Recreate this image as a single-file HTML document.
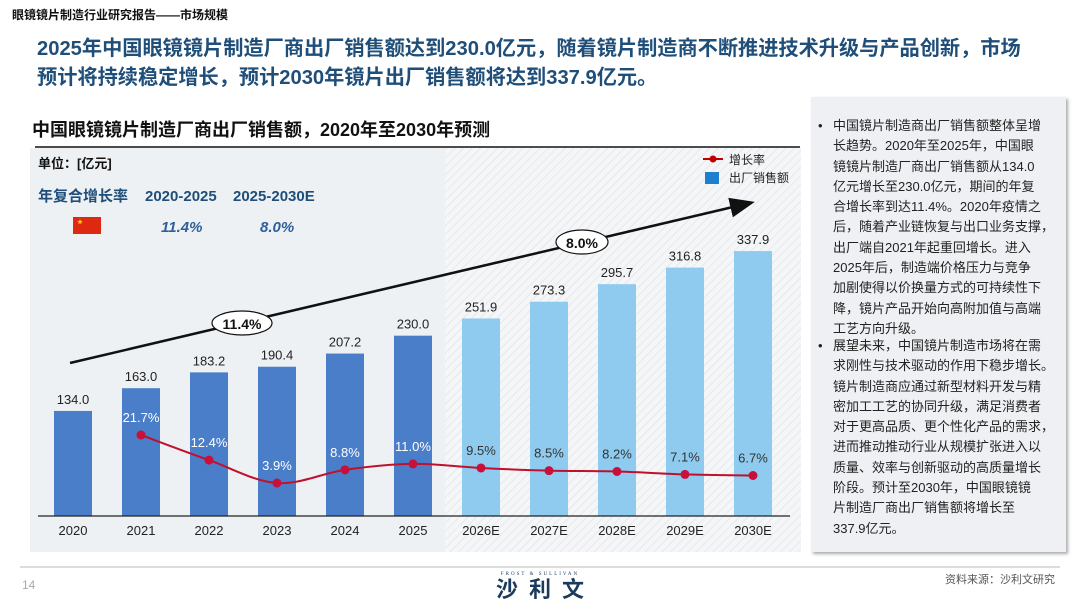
<!DOCTYPE html>
<html><head><meta charset="utf-8">
<style>
body{margin:0;width:1080px;height:608px;overflow:hidden;background:#fff;font-family:"Liberation Sans","Noto Sans CJK SC",sans-serif;position:relative}
.abs{position:absolute}
#panel{left:811px;top:97px;width:255px;height:455px;background:#eef0f3;box-shadow:2px 2px 3px #aaa}
#panel p{margin:0;position:absolute;left:22px;font-size:13px;line-height:20.3px;color:#222;width:240px;white-space:nowrap}
#panel p::before{content:"•";position:absolute;left:-15px}
</style></head><body>
<div class="abs" style="left:12px;top:6px;font-size:12px;font-weight:bold;color:#111">眼镜镜片制造行业研究报告——市场规模</div>
<div class="abs" style="left:37px;top:35px;font-size:20.2px;font-weight:bold;color:#1f4e79;line-height:29px;white-space:nowrap">2025年中国眼镜镜片制造厂商出厂销售额达到230.0亿元，随着镜片制造商不断推进技术升级与产品创新，市场<br>预计将持续稳定增长，预计2030年镜片出厂销售额将达到337.9亿元。</div>
<div class="abs" style="left:32px;top:116px;font-size:18px;font-weight:bold;color:#111">中国眼镜镜片制造厂商出厂销售额，2020年至2030年预测</div>

<svg class="abs" style="left:0;top:0" width="1080" height="608">
<defs><pattern id="hatch" width="6" height="6" patternUnits="userSpaceOnUse" patternTransform="rotate(45)"><rect width="6" height="6" fill="#f5f6f8"/><line x1="0" y1="0" x2="0" y2="6" stroke="#e6e8ec" stroke-width="2"/></pattern>
<marker id="ah" markerWidth="10" markerHeight="8" refX="8" refY="4" orient="auto"><path d="M0,0 L10,4 L0,8 z" fill="#111"/></marker></defs>
<rect x="30" y="148" width="415" height="404" fill="#eef1f4"/>
<rect x="445" y="148" width="356" height="404" fill="url(#hatch)"/>
<line x1="35" y1="147" x2="800" y2="147" stroke="#111" stroke-width="1.5"/>
<text x="38" y="168" font-size="13" font-weight="bold" fill="#111">单位：[亿元]</text>
<text x="38" y="201" font-size="15" font-weight="bold" fill="#1f4e79">年复合增长率</text>
<text x="145" y="201" font-size="15" font-weight="bold" fill="#1f4e79">2020-2025</text>
<text x="233" y="201" font-size="15" font-weight="bold" fill="#1f4e79">2025-2030E</text>
<rect x="73" y="217" width="28" height="17" fill="#de2910"/>
<text x="77" y="224" font-size="6" fill="#ffde00">★</text>
<text x="161" y="232" font-size="15" font-style="italic" font-weight="bold" fill="#2e5f99">11.4%</text>
<text x="260" y="232" font-size="15" font-style="italic" font-weight="bold" fill="#2e5f99">8.0%</text>
<g>
<line x1="703" y1="159" x2="723" y2="159" stroke="#c00000" stroke-width="2"/><circle cx="713" cy="159" r="3.5" fill="#c00000"/>
<text x="729" y="164" font-size="12" fill="#222">增长率</text>
<rect x="705" y="172" width="14" height="12" fill="#1f7fcf"/>
<text x="729" y="182" font-size="12" fill="#222">出厂销售额</text>
</g>
<g id="bars"></g>
<line x1="38" y1="516" x2="790" y2="516" stroke="#222" stroke-width="1.2"/>
<g id="line"></g>
<line x1="70" y1="363" x2="750" y2="203" stroke="#111" stroke-width="2.5" marker-end="url(#ah)"/>
<ellipse cx="242" cy="323" rx="30" ry="12" fill="#fff" stroke="#111" stroke-width="1.2"/>
<text x="242" y="329" font-size="14" font-weight="bold" text-anchor="middle" fill="#111">11.4%</text>
<ellipse cx="582" cy="242" rx="26" ry="12" fill="#fff" stroke="#111" stroke-width="1.2"/>
<text x="582" y="248" font-size="14" font-weight="bold" text-anchor="middle" fill="#111">8.0%</text>
<line x1="20" y1="567" x2="1060" y2="567" stroke="#bbb" stroke-width="1"/>
</svg>

<div id="panel" class="abs">
<p style="top:19px">中国镜片制造商出厂销售额整体呈增<br>长趋势。2020年至2025年，中国眼<br>镜镜片制造厂商出厂销售额从134.0<br>亿元增长至230.0亿元，期间的年复<br>合增长率到达11.4%。2020年疫情之<br>后，随着产业链恢复与出口业务支撑，<br>出厂端自2021年起重回增长。进入<br>2025年后，制造端价格压力与竞争<br>加剧使得以价换量方式的可持续性下<br>降，镜片产品开始向高附加值与高端<br>工艺方向升级。</p>
<p style="top:239px">展望未来，中国镜片制造市场将在需<br>求刚性与技术驱动的作用下稳步增长。<br>镜片制造商应通过新型材料开发与精<br>密加工工艺的协同升级，满足消费者<br>对于更高品质、更个性化产品的需求，<br>进而推动推动行业从规模扩张进入以<br>质量、效率与创新驱动的高质量增长<br>阶段。预计至2030年，中国眼镜镜<br>片制造厂商出厂销售额将增长至<br>337.9亿元。</p>
</div>

<div class="abs" style="left:22px;top:578px;font-size:12px;color:#aaa">14</div>
<div class="abs" style="left:485px;top:572px;width:110px;text-align:center;color:#1b3a5c">
<div style="font-size:5px;letter-spacing:2px;font-family:'Liberation Serif',serif">FROST &amp; SULLIVAN</div>
<div style="font-size:22px;font-weight:bold;letter-spacing:11px;line-height:26px;margin-left:11px">沙利文</div></div>
<div class="abs" style="right:25px;top:571px;font-size:11px;color:#555">资料来源：沙利文研究</div>

<script>
const categories=["2020","2021","2022","2023","2024","2025","2026E","2027E","2028E","2029E","2030E"];
const sales=[134.0,163.0,183.2,190.4,207.2,230.0,251.9,273.3,295.7,316.8,337.9];
const growth=[null,21.7,12.4,3.9,8.8,11.0,9.5,8.5,8.2,7.1,6.7];
const NS="http://www.w3.org/2000/svg";
const xc=i=>73+i*68, base=516, yS=v=>base-v*0.784, yG=v=>435+(21.7-v)*2.7;
function mk(t,a,p){const e=document.createElementNS(NS,t);for(const k in a)e.setAttribute(k,a[k]);p.appendChild(e);return e;}
const bg=document.getElementById('bars'), lg=document.getElementById('line');
categories.forEach((c,i)=>{
 const r=mk('rect',{x:xc(i)-19,y:yS(sales[i]),width:38,height:base-yS(sales[i]),fill:i<6?'#4a7ec9':'#8ecbef'},bg);
 
 
 const t=mk('text',{x:xc(i),y:yS(sales[i])-7,'font-size':13,'text-anchor':'middle',fill:'#222'},bg);t.textContent=sales[i].toFixed(1);
 
 
 const xl=mk('text',{x:xc(i),y:535,'font-size':13,'text-anchor':'middle',fill:'#222'},bg);xl.textContent=c;
 
 
});
const pts=[];growth.forEach((g,i)=>{if(g!==null)pts.push([xc(i),yG(g),g,i]);});
let d='M'+pts[0][0]+','+pts[0][1];
for(let k=1;k<pts.length;k++){const p0=pts[Math.max(k-2,0)],p1=pts[k-1],p2=pts[k],p3=pts[Math.min(k+1,pts.length-1)];
 d+=` C${p1[0]+(p2[0]-p0[0])/6},${p1[1]+(p2[1]-p0[1])/6} ${p2[0]-(p3[0]-p1[0])/6},${p2[1]-(p3[1]-p1[1])/6} ${p2[0]},${p2[1]}`;}
const path=mk('path',{d:d,fill:'none',stroke:'#c0102e','stroke-width':2},lg);


pts.forEach(p=>{
 const c=mk('circle',{cx:p[0],cy:p[1],r:4.5,fill:'#c8103a'},lg);
 
 
 const t=mk('text',{x:p[0],y:p[1]-13,'font-size':13,'text-anchor':'middle',fill:p[3]<6?'#fff':'#333'},lg);t.textContent=p[2].toFixed(1)+'%';
 
 
});
</script>
</body></html>
